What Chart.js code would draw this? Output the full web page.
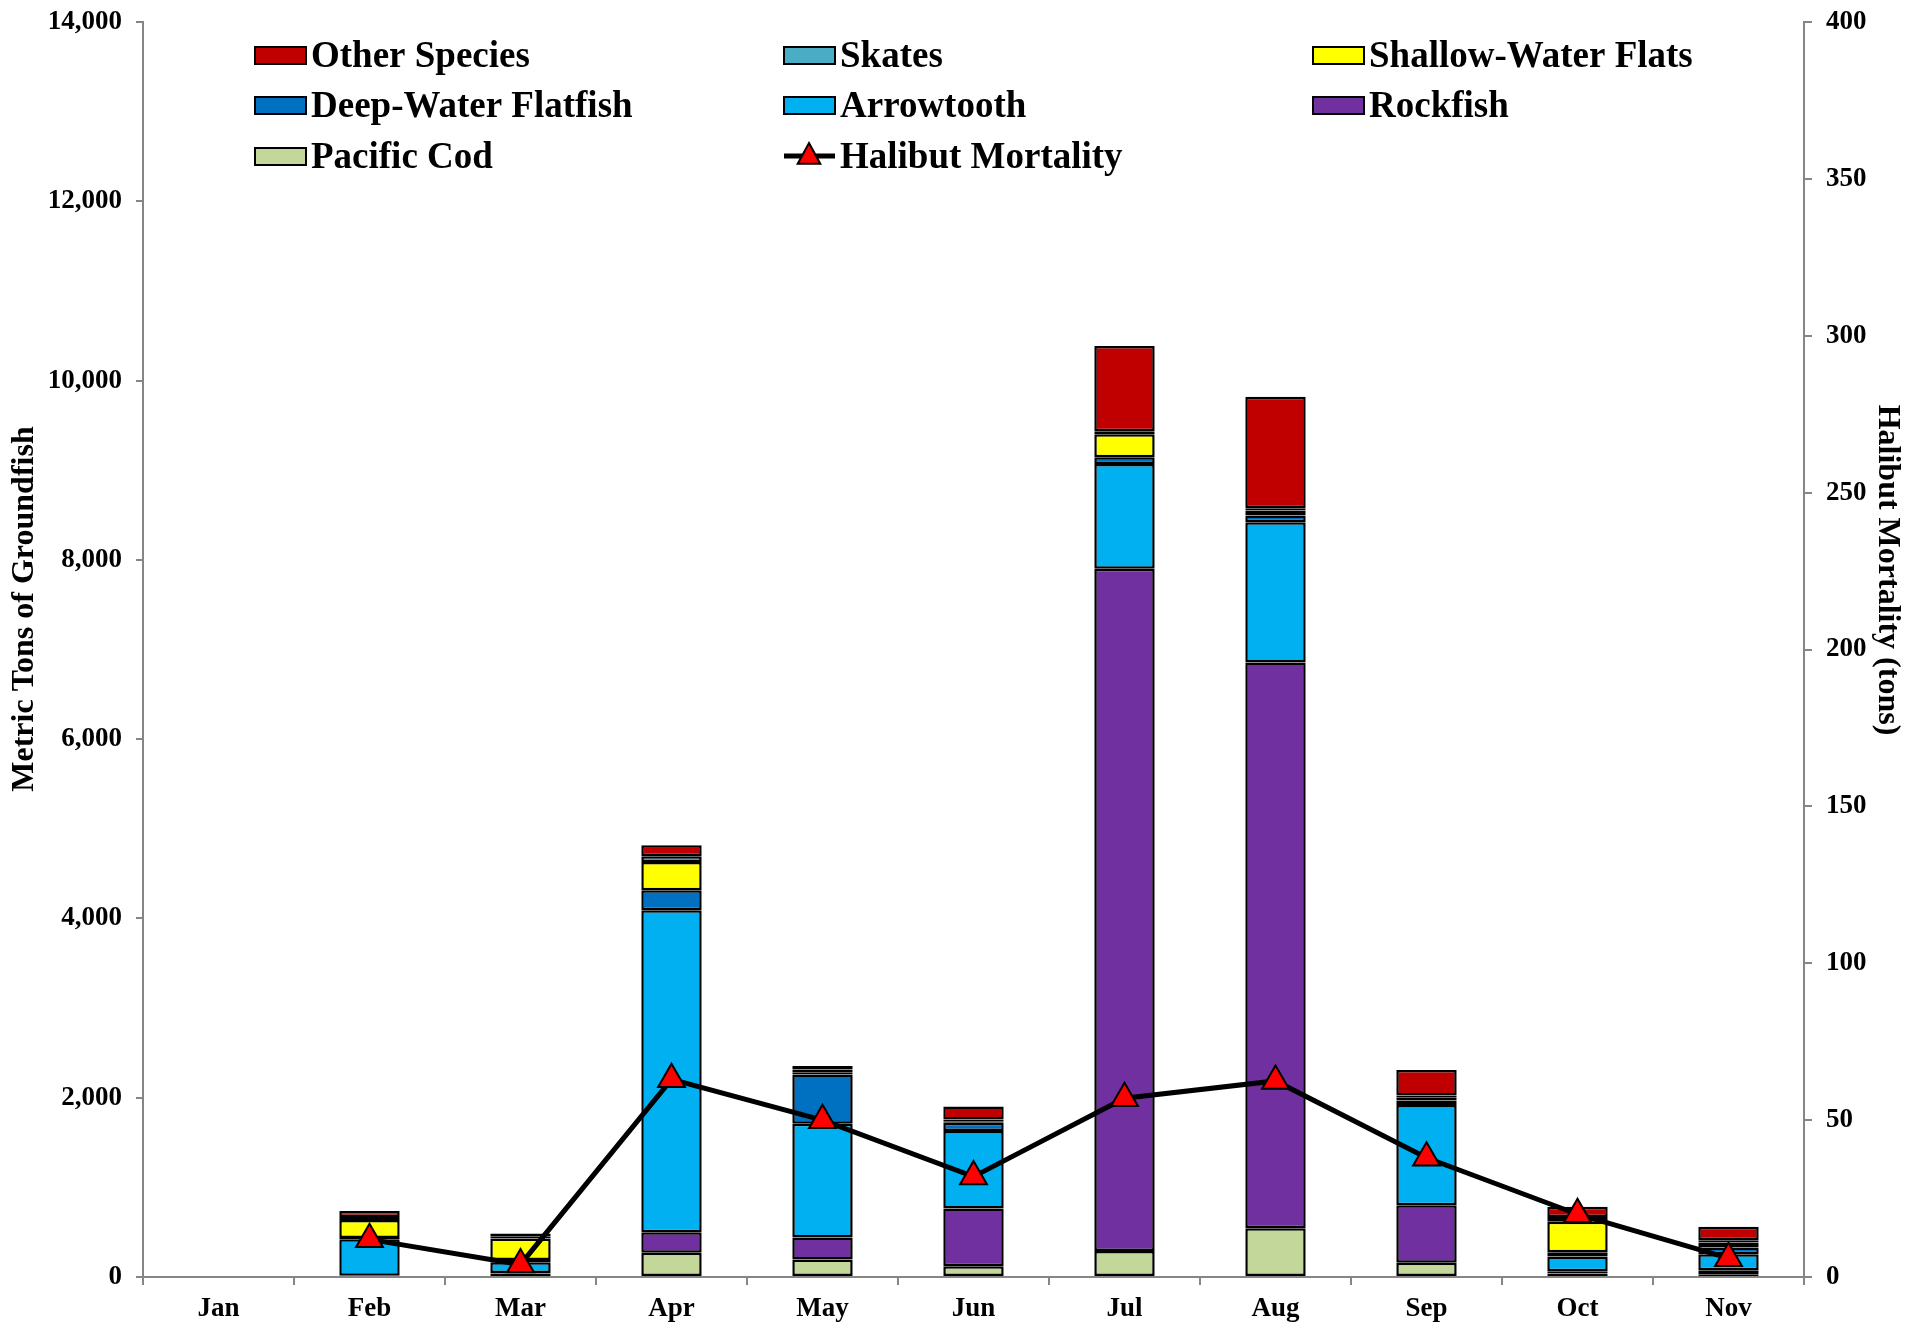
<!DOCTYPE html>
<html>
<head>
<meta charset="utf-8">
<script src="https://cdn.jsdelivr.net/npm/chart.js@4.4.1/dist/chart.umd.min.js"></script>
<style>
  html, body { margin: 0; padding: 0; background: #fff; }
  #wrap { width: 1921px; height: 1327px; }
</style>
</head>
<body>
<div id="wrap"><canvas id="chart" width="1921" height="1327"></canvas></div>
<script>
// categories
const months = ["Jan", "Feb", "Mar", "Apr", "May", "Jun", "Jul", "Aug", "Sep", "Oct", "Nov"];

// groundfish catch (metric tons), stacked bottom -> top
const pacificCod   = [null, 10, 40, 270, 195, 120, 290, 545, 160, 40, 30];
const rockfish     = [null, 5, 5, 230, 245, 645, 7610, 6310, 640, 25, 45];
const arrowtooth   = [null, 405, 120, 3590, 1270, 865, 1170, 1565, 1120, 165, 180];
const deepWater    = [null, 15, 25, 225, 550, 90, 75, 75, 50, 45, 75];
const shallowWater = [null, 200, 240, 315, 25, 17, 255, 55, 35, 340, 55];
const skates       = [null, 35, 20, 65, 30, 20, 35, 25, 20, 55, 25];
const otherSpecies = [null, 65, 35, 120, 40, 145, 950, 1245, 285, 115, 150];

// halibut mortality (tons), right axis
const halibut = [null, 12, 4, 63, 50, 32, 57, 62.5, 38, 20, 6];

// axis ticks
const leftTicks = [0, 2000, 4000, 6000, 8000, 10000, 12000, 14000];
const rightTicks = [0, 50, 100, 150, 200, 250, 300, 350, 400];

const COLORS = {
  other:   "#C00000",
  skates:  "#4BACC6",
  shallow: "#FFFF00",
  deep:    "#0070C0",
  arrow:   "#00B0F0",
  rock:    "#7030A0",
  cod:     "#C4D79B",
};

const FONT = "'Liberation Serif', 'Times New Roman', serif";
const AXIS_GRAY = "#868686";

function barSet(label, data, color) {
  return {
    type: "bar",
    label,
    data,
    backgroundColor: color,
    borderColor: "#000",
    borderWidth: 2.5,
    borderSkipped: false,
    stack: "catch",
    yAxisID: "y",
    order: 1,
    categoryPercentage: 1.0,
    barPercentage: 0.4,
  };
}

// legend laid out as a 3-column grid inside the plot, like the original
const LEGEND_ROWS = [
  ["Other Species", "Skates", "Shallow-Water Flats"],
  ["Deep-Water Flatfish", "Arrowtooth", "Rockfish"],
  ["Pacific Cod", "Halibut Mortality"],
];
const legendGrid = {
  id: "legendGrid",
  afterDraw(chart) {
    const ctx = chart.ctx;
    const colX = [255, 784, 1313];
    const rowY = [55, 105, 156];
    const byLabel = {};
    chart.data.datasets.forEach((d) => { byLabel[d.label] = d; });
    ctx.save();
    ctx.font = "bold 37px " + FONT;
    ctx.textBaseline = "middle";
    ctx.textAlign = "left";
    LEGEND_ROWS.forEach((row, r) => {
      row.forEach((name, c) => {
        const ds = byLabel[name];
        const x = colX[c], y = rowY[r];
        if (ds.type === "line") {
          ctx.strokeStyle = "#000";
          ctx.lineWidth = 5;
          ctx.beginPath();
          ctx.moveTo(x, y);
          ctx.lineTo(x + 51, y);
          ctx.stroke();
          const cx = x + 25, rad = 13;
          ctx.beginPath();
          ctx.moveTo(cx, y - rad);
          ctx.lineTo(cx + rad * 0.87, y + rad * 0.6);
          ctx.lineTo(cx - rad * 0.87, y + rad * 0.6);
          ctx.closePath();
          ctx.fillStyle = "#FF0000";
          ctx.fill();
          ctx.lineWidth = 2;
          ctx.stroke();
        } else {
          ctx.fillStyle = ds.backgroundColor;
          ctx.fillRect(x, y - 8, 51, 17);
          ctx.strokeStyle = "#000";
          ctx.lineWidth = 2;
          ctx.strokeRect(x, y - 8, 51, 17);
        }
        ctx.fillStyle = "#000";
        ctx.fillText(name, x + 56, y + 2);
      });
    });

    // axis titles
    ctx.font = "bold 32px " + FONT;
    ctx.textAlign = "center";
    ctx.translate(25, 609);
    ctx.rotate(-Math.PI / 2);
    ctx.fillText("Metric Tons of Groundfish", 0, 0);
    ctx.setTransform(1, 0, 0, 1, 0, 0);
    ctx.translate(1887, 570);
    ctx.rotate(Math.PI / 2);
    ctx.fillText("Halibut Mortality (tons)", 0, 0);
    ctx.restore();
  },
};

// keep the plot box fixed: strip the label overhang padding Chart.js adds
function fixVertical(width) {
  return (s) => { s.width = width; s.paddingTop = 0; s.paddingBottom = 0; };
}

const ctx = document.getElementById("chart").getContext("2d");
new Chart(ctx, {
  data: {
    labels: months,
    datasets: [
      {
        type: "line",
        label: "Halibut Mortality",
        data: halibut,
        yAxisID: "y1",
        borderColor: "#000",
        borderWidth: 5,
        tension: 0,
        pointStyle: "triangle",
        pointRadius: 15.5,
        pointBackgroundColor: "#FF0000",
        pointBorderColor: "#000",
        pointBorderWidth: 2,
        order: 0,
      },
      barSet("Pacific Cod", pacificCod, COLORS.cod),
      barSet("Rockfish", rockfish, COLORS.rock),
      barSet("Arrowtooth", arrowtooth, COLORS.arrow),
      barSet("Deep-Water Flatfish", deepWater, COLORS.deep),
      barSet("Shallow-Water Flats", shallowWater, COLORS.shallow),
      barSet("Skates", skates, COLORS.skates),
      barSet("Other Species", otherSpecies, COLORS.other),
    ],
  },
  options: {
    responsive: false,
    animation: false,
    devicePixelRatio: 1,
    layout: { padding: { top: 22, left: 0, right: 0, bottom: 0 } },
    plugins: {
      legend: { display: false },
      tooltip: { enabled: false },
    },
    scales: {
      x: {
        stacked: true,
        offset: true,
        grid: {
          offset: true,
          drawOnChartArea: false,
          drawTicks: true,
          tickLength: 8,
          color: AXIS_GRAY,
          lineWidth: 2,
        },
        border: { color: AXIS_GRAY, width: 2 },
        ticks: { color: "#000", font: { family: FONT, size: 27, weight: "bold" }, padding: 8 },
        afterFit: (s) => { s.height = 50; s.paddingLeft = 0; s.paddingRight = 0; },
      },
      y: {
        position: "left",
        stacked: true,
        min: 0,
        max: 14000,
        afterBuildTicks: (s) => { s.ticks = leftTicks.map((v) => ({ value: v })); },
        grid: {
          drawOnChartArea: false,
          drawTicks: true,
          tickLength: 7,
          color: AXIS_GRAY,
          lineWidth: 2,
        },
        border: { color: AXIS_GRAY, width: 2 },
        ticks: {
          color: "#000",
          font: { family: FONT, size: 27, weight: "bold" },
          padding: 14,
          callback: (v) => Number(v).toLocaleString("en-US"),
        },
        afterFit: fixVertical(143),
      },
      y1: {
        position: "right",
        min: 0,
        max: 400,
        afterBuildTicks: (s) => { s.ticks = rightTicks.map((v) => ({ value: v })); },
        grid: {
          drawOnChartArea: false,
          drawTicks: true,
          tickLength: 8,
          color: AXIS_GRAY,
          lineWidth: 2,
        },
        border: { color: AXIS_GRAY, width: 2 },
        ticks: {
          color: "#000",
          font: { family: FONT, size: 27, weight: "bold" },
          padding: 14,
        },
        afterFit: fixVertical(117),
      },
    },
  },
  plugins: [legendGrid],
});
</script>
</body>
</html>
